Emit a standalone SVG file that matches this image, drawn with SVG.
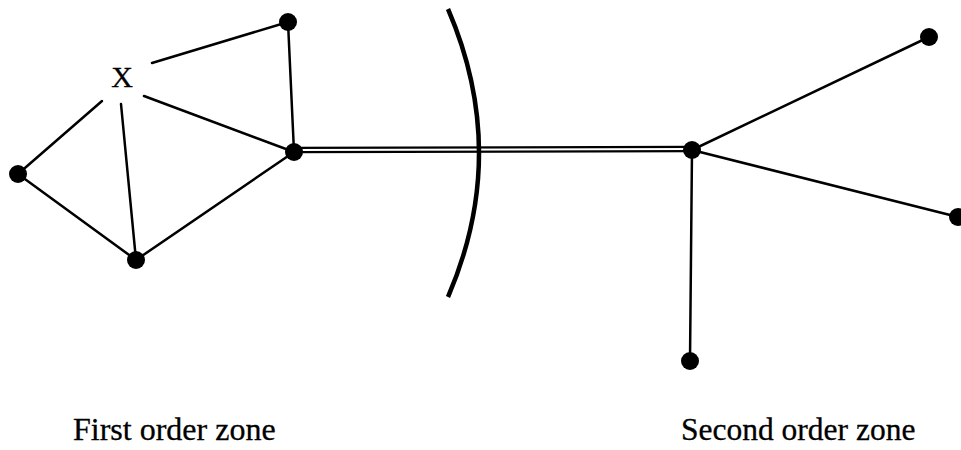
<svg xmlns="http://www.w3.org/2000/svg" width="961" height="450" viewBox="0 0 961 450">
<style>
.edge{stroke:#000;stroke-width:2.5;fill:none;stroke-linecap:round}
.dot{fill:#000}
.lbl{font-family:"Liberation Serif","Times New Roman",serif;fill:#000;stroke:#000;stroke-width:0.3}
</style>
<rect width="961" height="450" fill="#fff"/>
<g id="connectors">
<line class="edge" x1="152" y1="63" x2="288" y2="22"/>
<line class="edge" x1="144" y1="96" x2="294" y2="152"/>
<line class="edge" x1="102" y1="101" x2="18" y2="174"/>
<line class="edge" x1="121" y1="104" x2="136" y2="260"/>
<line class="edge" x1="288" y1="22" x2="294" y2="152"/>
<line class="edge" x1="18" y1="174" x2="136" y2="260"/>
<line class="edge" x1="136" y1="260" x2="294" y2="152"/>
<line x1="294" y1="150" x2="692" y2="149" stroke="#000" stroke-width="6.5"/>
<line x1="294" y1="150" x2="692" y2="149" stroke="#fff" stroke-width="2"/>
<line class="edge" x1="692" y1="150" x2="929" y2="37"/>
<line class="edge" x1="692" y1="150" x2="958" y2="217"/>
<line class="edge" x1="692" y1="150" x2="690" y2="361"/>
</g>
<path id="boundary" d="M448,9 Q510,153 448,297" fill="none" stroke="#000" stroke-width="4.5"/>
<g id="node-x"><text class="lbl" x="122" y="87" font-size="30" text-anchor="middle">X</text></g>
<g id="node-top"><circle class="dot" cx="288" cy="22" r="9"/></g>
<g id="node-hub1"><circle class="dot" cx="294" cy="152" r="9"/></g>
<g id="node-left"><circle class="dot" cx="18" cy="174" r="9"/></g>
<g id="node-bottom"><circle class="dot" cx="136" cy="260" r="9"/></g>
<g id="node-hub2"><circle class="dot" cx="692" cy="150" r="9"/></g>
<g id="node-right-top"><circle class="dot" cx="929" cy="37" r="9"/></g>
<g id="node-right"><circle class="dot" cx="958" cy="217" r="9"/></g>
<g id="node-right-bottom"><circle class="dot" cx="690" cy="361" r="9"/></g>
<g id="labels">
<text class="lbl" x="73" y="440" font-size="32">First order zone</text>
<text class="lbl" x="681" y="440" font-size="31.5">Second order zone</text>
</g>
</svg>
